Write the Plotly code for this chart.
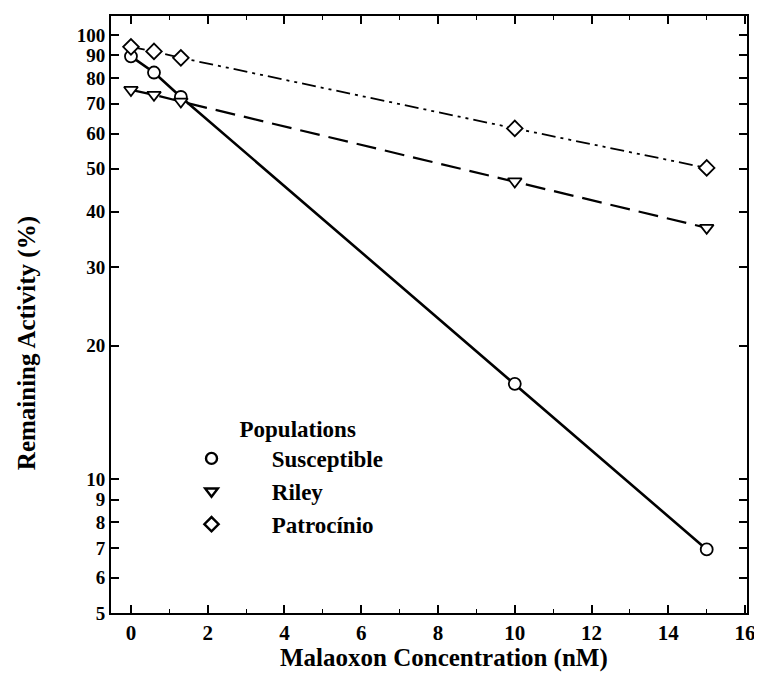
import plotly.graph_objects as go

conc = [0, 0.6, 1.3, 10, 15]
susceptible = [89.5, 82.3, 72.5, 16.4, 6.95]
riley = [75.2, 73.3, 70.8, 46.8, 36.8]
patrocinio = [94.0, 91.8, 88.8, 61.6, 50.2]

names = ["Susceptible", "Riley", "Patrocínio"]
series = [susceptible, riley, patrocinio]
symbols = ["circle", "triangle-down", "diamond"]
dashes = ["solid", "20px,9px", "14px,5px,3px,5px,3px,5px"]
widths = [2.6, 2.2, 1.8]

ytickvals = [5, 6, 7, 8, 9, 10, 20, 30, 40, 50, 60, 70, 80, 90, 100]
xtickvals = list(range(0, 17, 2))
x_title = "Malaoxon Concentration (nM)"
y_title = "Remaining Activity (%)"

NB = "\u00a0"

fig = go.Figure()
for n, s, sym, d, w in zip(names, series, symbols, dashes, widths):
    fig.add_trace(go.Scatter(
        x=conc, y=s, mode="lines+markers", showlegend=False,
        line=dict(color="black", width=w, dash=d),
        marker=dict(symbol=sym, size=12, color="white",
                    line=dict(color="black", width=1.8)),
    ))
for i, (n, sym) in enumerate(zip(names, symbols)):
    fig.add_trace(go.Scatter(
        x=[None], y=[None], mode="markers", name="<b>" + NB * 7 + n + "</b>",
        legendgroup=str(i),
        marker=dict(symbol=sym, size=11, color="white",
                    line=dict(color="black", width=2.4)),
    ))

font_fam = "Liberation Serif"
fig.update_layout(
    width=754, height=677,
    margin=dict(l=103, r=9, t=6, b=72),
    plot_bgcolor="white", paper_bgcolor="white",
    font=dict(family=font_fam, size=23, color="black"),
    legend=dict(
        x=0.1266, y=0.345, xanchor="left", yanchor="top",
        bgcolor="rgba(0,0,0,0)", tracegroupgap=0,
        title=dict(text=NB * 8 + "<b>Populations</b>", side="top",
                   font=dict(family=font_fam, size=23)),
        font=dict(family=font_fam, size=23),
    ),
    xaxis=dict(
        range=[-0.52, 16.05], tickvals=xtickvals,
        ticktext=["<b>%d</b>" % v for v in xtickvals],
        ticks="inside", ticklen=8, tickwidth=1.5, tickcolor="black",
        minor=dict(dtick=1, ticks="inside", ticklen=4, tickwidth=1.2, tickcolor="black"),
        showline=True, linecolor="black", linewidth=2, mirror="ticks",
        showgrid=False, zeroline=False, ticklabeloverflow="allow",
        tickfont=dict(family=font_fam, size=21),
    ),
    yaxis=dict(
        type="log", range=[0.699, 2.0426],
        tickvals=ytickvals, ticktext=["<b>%d</b>" % v for v in ytickvals],
        ticks="inside", ticklen=8, tickwidth=1.5, tickcolor="black",
        showline=True, linecolor="black", linewidth=2, mirror="ticks",
        showgrid=False, zeroline=False,
        tickfont=dict(family=font_fam, size=19),
    ),
    annotations=[
        dict(text="<b>%s</b>" % x_title, xref="paper", yref="paper",
             x=0.523, y=0, yshift=-45, xanchor="center", yanchor="middle",
             showarrow=False, font=dict(family=font_fam, size=25)),
        dict(text="<b>%s</b>" % y_title, xref="paper", yref="paper",
             x=0, y=0.452, xshift=-84, xanchor="center", yanchor="middle",
             textangle=-90, showarrow=False, font=dict(family=font_fam, size=25)),
    ],
)

fig.write_html("out.html")
